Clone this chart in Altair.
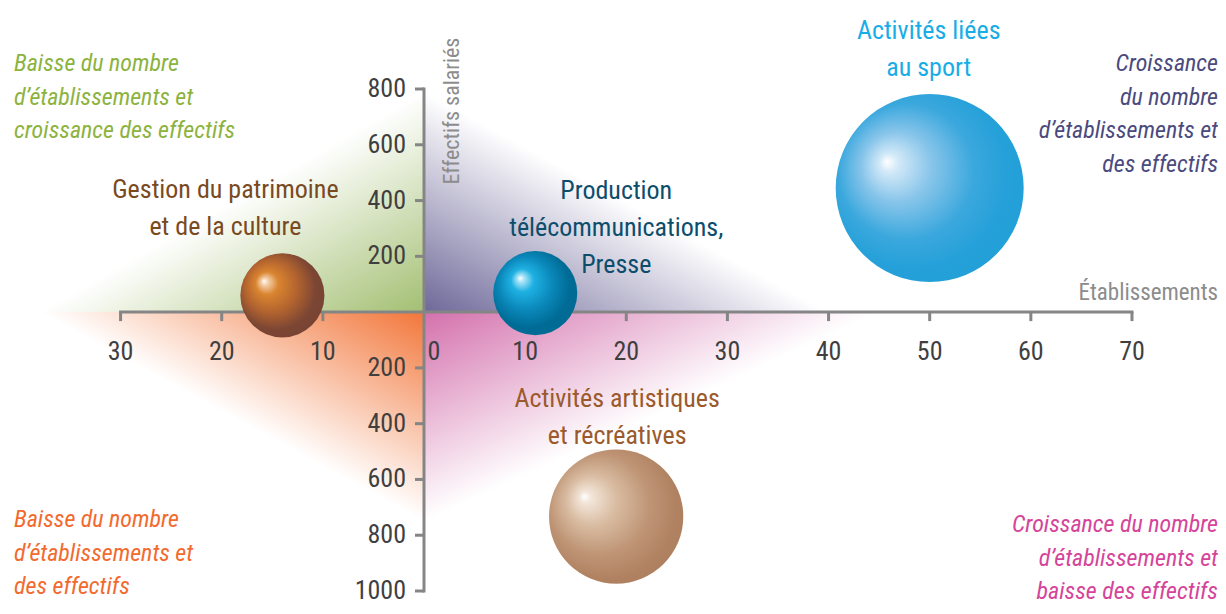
import altair as alt
import pandas as pd

# ---------------- data ----------------
categories = [
    "Gestion du patrimoine\net de la culture",
    "Production\ntélécommunications,\nPresse",
    "Activités liées\nau sport",
    "Activités artistiques\net récréatives",
]
etablissements = [-14, 11, 50, 19]      # variation du nombre d'établissements
effectifs = [60, 68, 445, -733]         # variation des effectifs salariés
taille = [20, 20, 100, 51]              # taille relative des bulles

x_label_values = [-30, -20, -10, 0, 10, 20, 30, 40, 50, 60, 70]
y_tick_values = [800, 600, 400, 200, -200, -400, -600, -800, -1000]
x_axis_title = "Établissements"
y_axis_title = "Effectifs salariés"

quadrant_labels = [
    "Baisse du nombre\nd’établissements et\ncroissance des effectifs",
    "Croissance\ndu nombre\nd’établissements et\ndes effectifs",
    "Baisse du nombre\nd’établissements et\ndes effectifs",
    "Croissance du nombre\nd’établissements et\nbaisse des effectifs",
]

# background zones (triangles): outer end on x axis and on y axis
zone_x_ends = [-38, 40, -38, 45]
zone_y_ends = [790, 790, -750, -750]

# ---------------- layout ----------------
W, H = 1210, 598
PX_X = 10.114
TOP_PX, BOTTOM_PX = 89, 591          # page pixels of y = 800 and y = -1000
PX_Y = (BOTTOM_PX - TOP_PX) / 1800.0
ORIG_X = 416
ORIG_Y = TOP_PX + 800 * PX_Y - 8
xmin = -ORIG_X / PX_X
xmax = xmin + W / PX_X
ymax = ORIG_Y / PX_Y
ymin = ymax - H / PX_Y

FONT = "Liberation Sans Narrow, Arial Narrow, Roboto Condensed, DejaVu Sans Condensed, Liberation Sans, sans-serif"
AXIS_COLOR = "#858585"
LABEL_COLOR = "#3f3f3f"
TITLE_COLOR = "#8c8c8c"

xs = alt.Scale(domain=[xmin, xmax], nice=False, zero=False)
ys = alt.Scale(domain=[ymin, ymax], nice=False, zero=False)


def X(f):
    return alt.X(f, type="quantitative", scale=xs, axis=None)


def Y(f):
    return alt.Y(f, type="quantitative", scale=ys, axis=None)


layers = []

# ---------------- background triangles ----------------
zone_colors = ["#a3bf72", "#6e6899", "#f2763a", "#d471ad"]
zone_corner = [(1, 1), (0, 1), (1, 0), (0, 0)]
for i in range(4):
    xe, ye = zone_x_ends[i], zone_y_ends[i]
    if xe < 0:
        pts = [(xe, 0), (0, ye)]
    else:
        pts = [(0, ye), (xe, 0)]
    d = pd.DataFrame(pts, columns=["x", "y"])
    d["z"] = 0
    cx, cy = zone_corner[i]
    grad = alt.LinearGradient(
        gradient="linear", x1=cx, y1=cy, x2=0.5, y2=0.5,
        stops=[alt.GradientStop(color=zone_colors[i], offset=0),
               alt.GradientStop(color="#ffffff", offset=1)],
    )
    layers.append(
        alt.Chart(d).mark_area(color=grad, opacity=1, interpolate="linear")
        .encode(x=X("x"), y=Y("y"), y2=alt.Y2("z"))
    )

# ---------------- axes ----------------
xa = pd.DataFrame({"a": [x_label_values[0]], "b": [x_label_values[-1]], "z": [0]})
layers.append(
    alt.Chart(xa).mark_rule(color=AXIS_COLOR, strokeWidth=3, strokeCap="square")
    .encode(x=X("a"), x2=alt.X2("b"), y=Y("z"))
)
ya = pd.DataFrame({"a": [y_tick_values[-1]], "b": [y_tick_values[0]], "z": [0]})
layers.append(
    alt.Chart(ya).mark_rule(color=AXIS_COLOR, strokeWidth=3, strokeCap="square")
    .encode(x=X("z"), y=Y("a"), y2=alt.Y2("b"))
)

xl = pd.DataFrame({"v": x_label_values})
xl["z"] = 0
xl["lab"] = xl["v"].abs().astype(str)
xt = xl[xl["v"] != 0]
layers.append(
    alt.Chart(xt).mark_rule(color=AXIS_COLOR, strokeWidth=3, y2Offset=9)
    .encode(x=X("v"), y=Y("z"), y2=alt.Y2("z"))
)
layers.append(
    alt.Chart(xt).mark_text(font=FONT, fontSize=26, color=LABEL_COLOR, align="center",
                            baseline="middle", dy=40)
    .encode(x=X("v"), y=Y("z"), text="lab:N")
)
layers.append(
    alt.Chart(xl[xl["v"] == 0]).mark_text(font=FONT, fontSize=26, color=LABEL_COLOR, align="center",
                                          baseline="middle", dy=40, dx=10)
    .encode(x=X("v"), y=Y("z"), text="lab:N")
)

yl = pd.DataFrame({"v": y_tick_values})
yl["z"] = 0
yl["lab"] = yl["v"].abs().astype(str)
layers.append(
    alt.Chart(yl).mark_rule(color=AXIS_COLOR, strokeWidth=3, x2Offset=-9)
    .encode(x=X("z"), x2=alt.X2("z"), y=Y("v"))
)
layers.append(
    alt.Chart(yl).mark_text(font=FONT, fontSize=26, color=LABEL_COLOR, align="right",
                            baseline="middle", dx=-18)
    .encode(x=X("z"), y=Y("v"), text="lab:N")
)

# axis titles
layers.append(
    alt.Chart(pd.DataFrame({"t": [y_axis_title]})).mark_text(
        font=FONT, fontSize=22, color=TITLE_COLOR, angle=270, align="center", baseline="middle")
    .encode(x=alt.value(444), y=alt.value(103), text="t:N")
)
layers.append(
    alt.Chart(pd.DataFrame({"t": [x_axis_title]})).mark_text(
        font=FONT, fontSize=23, color=TITLE_COLOR, align="right", baseline="middle")
    .encode(x=alt.value(1210), y=alt.value(285), text="t:N")
)

# ---------------- bubbles ----------------
df = pd.DataFrame({"categorie": categories, "etablissements": etablissements,
                   "effectifs": effectifs, "taille": taille})
size_scale = alt.Scale(domain=[0, 100], range=[0, 35344])

sphere_styles = [
    # focus x, focus y, stops, label colour, dx, dy
    (0.28, 0.33, [(0, "#ffffff"), (0.07, "#f4cda6"), (0.22, "#d9842f"), (0.5, "#b3642f"),
                  (0.78, "#7c4634"), (1, "#764232")], "#7a4a1f", -57, -118),
    (0.32, 0.32, [(0, "#ffffff"), (0.07, "#a6e3f6"), (0.22, "#1eb0e2"), (0.52, "#0a87b9"),
                  (0.78, "#006c96"), (1, "#006a93")], "#0d4d6c", 81, -115),
    (0.27, 0.36, [(0, "#ffffff"), (0.08, "#d2e9f8"), (0.3, "#88c5ea"), (0.58, "#3ba8dd"),
                  (0.8, "#25a0d9"), (1, "#23a0d9")], "#18ade6", -1, -170),
    (0.26, 0.35, [(0, "#ffffff"), (0.07, "#f2e5d8"), (0.3, "#d9bca2"), (0.6, "#bf9576"),
                  (0.85, "#b08261"), (1, "#ad7f5e")], "#9b5a2b", 1, -131),
]

for i, (fx, fy, stops, lc, dx, dy) in enumerate(sphere_styles):
    sub = df.iloc[[i]]
    grad = alt.RadialGradient(
        gradient="radial", x1=fx, y1=fy, r1=0, x2=0.45, y2=0.45, r2=0.62,
        stops=[alt.GradientStop(offset=o, color=c) for o, c in stops],
    )
    layers.append(
        alt.Chart(sub).mark_circle(color=grad, opacity=1)
        .encode(x=X("etablissements"), y=Y("effectifs"),
                size=alt.Size("taille:Q", scale=size_scale, legend=None))
    )
    layers.append(
        alt.Chart(sub).mark_text(font=FONT, fontSize=26, color=lc, align="center", baseline="top",
                                 lineBreak="\n", lineHeight=37, dx=dx, dy=dy)
        .encode(x=X("etablissements"), y=Y("effectifs"), text="categorie:N")
    )

# ---------------- quadrant captions ----------------
quad_styles = [
    ("#8cb33e", "left", 6, 44),
    ("#4b4a7e", "right", 1210, 44),
    ("#f26a2e", "left", 6, 500),
    ("#d5449a", "right", 1210, 505),
]
for lab, (c, al, px, py) in zip(quadrant_labels, quad_styles):
    layers.append(
        alt.Chart(pd.DataFrame({"t": [lab]})).mark_text(
            font=FONT, fontSize=24, fontStyle="italic", color=c, align=al, baseline="top",
            lineBreak="\n", lineHeight=33.5)
        .encode(x=alt.value(px), y=alt.value(py), text="t:N")
    )

chart = (
    alt.layer(*layers)
    .properties(width=W, height=H, padding=0, background="white",
                autosize=alt.AutoSizeParams(type="none"))
    .configure_view(stroke=None)
)

chart.save("out.html", embed_options={"renderer": "svg", "actions": False})
